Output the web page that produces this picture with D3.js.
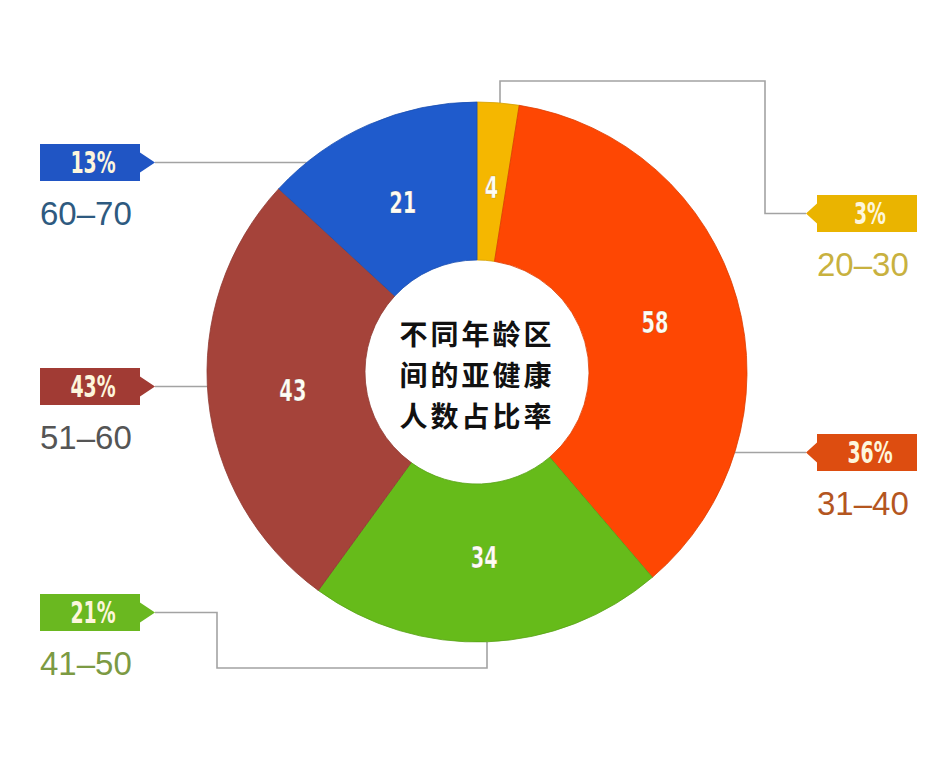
<!DOCTYPE html>
<html>
<head>
<meta charset="utf-8">
<script src="https://cdn.jsdelivr.net/npm/d3@7"></script>
<style>
  body { margin: 0; background: #fff; }
</style>
</head>
<body>
<svg></svg>
<script>
// data
const ages = ["20-30", "31-40", "41-50", "51-60", "60-70"]
const counts = [4, 58, 34, 43, 21]
const pctLabels = ["3%", "36%", "21%", "43%", "13%"]
const sliceColors = ["#f5b700", "#fe4703", "#66bb1a", "#a5433a", "#1f5bcc"]
const boxColors = ["#eab400", "#dd4d10", "#6ab820", "#a13b34", "#2055c4"]
const ageColors = ["#c8b13f", "#b4561f", "#7c9a43", "#555555", "#2e5a80"]
const centerLines = ["不同年龄区", "间的亚健康", "人数占比率"]

const width = 950
const height = 770
const cx = 477, cy = 372
const outerR = 270, innerR = 112

const svg = d3.select("svg")
  .attr("width", width)
  .attr("height", height)

// label boxes: side, box left x, box top y
const boxW = 100, boxH = 37
const labelPos = [
  { side: "right", x: 817, y: 195 },
  { side: "right", x: 817, y: 434 },
  { side: "left", x: 40, y: 594 },
  { side: "left", x: 40, y: 368 },
  { side: "left", x: 40, y: 144 }
]

// point on the pie's outer edge for a given x (top/bottom) or y (left/right)
const edgeAtX = (x, top) => cy + (top ? -1 : 1) * Math.sqrt(outerR * outerR - (x - cx) ** 2)
const edgeAtY = (y, left) => cx + (left ? -1 : 1) * Math.sqrt(outerR * outerR - (y - cy) ** 2)

// connector waypoints (from pie to arrow tip)
const tipY = i => labelPos[i].y + boxH / 2
const tipX = i => labelPos[i].side === "left" ? labelPos[i].x + boxW + 15 : labelPos[i].x - 11
const connectors = [
  [[500, edgeAtX(500, true)], [500, 81], [765, 81], [765, tipY(0)], [tipX(0), tipY(0)]],
  [[edgeAtY(tipY(1), false), tipY(1)], [tipX(1), tipY(1)]],
  [[487, edgeAtX(487, false)], [487, 668], [217, 668], [217, tipY(2)], [tipX(2), tipY(2)]],
  [[edgeAtY(tipY(3), true), tipY(3)], [tipX(3), tipY(3)]],
  [[edgeAtY(tipY(4), true), tipY(4)], [tipX(4), tipY(4)]]
]

svg.append("g")
  .selectAll("path")
  .data(connectors)
  .join("path")
  .attr("d", d3.line())
  .attr("fill", "none")
  .attr("stroke", "#a3a3a3")
  .attr("stroke-width", 1.6)

// donut
const pie = d3.pie().sort(null).value(d => d)
const arcs = pie(counts)
const arc = d3.arc().innerRadius(innerR).outerRadius(outerR)
const labelArc = d3.arc().innerRadius(185).outerRadius(185)

const donut = svg.append("g")
  .attr("transform", `translate(${cx}, ${cy})`)

donut.selectAll("path")
  .data(arcs)
  .join("path")
  .attr("d", arc)
  .attr("fill", (d, i) => sliceColors[i])
  .attr("stroke", (d, i) => d3.color(sliceColors[i]).darker(0.4))
  .attr("stroke-width", 0.8)

donut.selectAll("text.count")
  .data(arcs)
  .join("text")
  .classed("count", true)
  .attr("transform", d => {
    const [x, y] = labelArc.centroid(d)
    return `translate(${x}, ${y}) scale(0.72, 1)`
  })
  .attr("text-anchor", "middle")
  .attr("dy", "0.36em")
  .attr("font-family", "'DejaVu Sans Condensed', 'DejaVu Sans', sans-serif")
  .attr("font-weight", "bold")
  .attr("font-size", 30)
  .attr("fill", "#fffdf4")
  .attr("stroke", "rgba(60,30,20,0.35)")
  .attr("stroke-width", 0.6)
  .text(d => d.data)

// center text
donut.append("g")
  .selectAll("text")
  .data(centerLines)
  .join("text")
  .attr("x", 0)
  .attr("y", (d, i) => -27 + i * 41)
  .attr("text-anchor", "middle")
  .attr("font-family", "'Noto Sans CJK SC', sans-serif")
  .attr("font-weight", "bold")
  .attr("font-size", 28)
  .attr("letter-spacing", 3)
  .attr("fill", "#111")
  .text(d => d)

// percentage boxes
const boxes = svg.append("g")
  .selectAll("g")
  .data(labelPos)
  .join("g")

boxes.append("path")
  .attr("d", (p, i) => {
    const x0 = p.x, x1 = p.x + boxW, y0 = p.y, y1 = p.y + boxH, ym = tipY(i)
    const tx = tipX(i)
    if (p.side === "left") {
      return `M${x0},${y0}H${x1}V${ym - 10}L${tx},${ym}L${x1},${ym + 10}V${y1}H${x0}Z`
    }
    return `M${x0},${y0}H${x1}V${y1}H${x0}V${ym + 10}L${tx},${ym}L${x0},${ym - 10}Z`
  })
  .attr("fill", (p, i) => boxColors[i])

boxes.append("text")
  .attr("transform", p => `translate(${p.x + boxW / 2 + 3}, ${p.y + boxH / 2}) scale(0.7, 1)`)
  .attr("text-anchor", "middle")
  .attr("dy", "0.36em")
  .attr("font-family", "'DejaVu Sans Condensed', 'DejaVu Sans', sans-serif")
  .attr("font-weight", "bold")
  .attr("font-size", 30)
  .attr("fill", "#fdf6dc")
  .text((p, i) => pctLabels[i])

boxes.append("text")
  .attr("x", p => p.x)
  .attr("y", p => p.y + boxH + 44)
  .attr("font-family", "'Liberation Sans', Arial, sans-serif")
  .attr("font-size", 33)
  .attr("fill", (p, i) => ageColors[i])
  .text((p, i) => ages[i].replace("-", "–"))
</script>
</body>
</html>
